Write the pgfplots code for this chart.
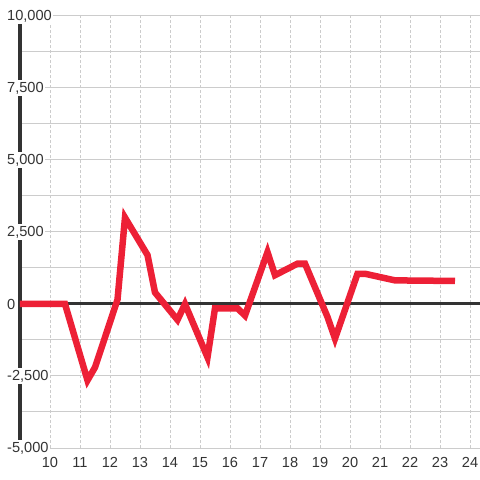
\documentclass[border=0pt]{standalone}
\usepackage{pgfplots}
\pgfplotsset{compat=1.18}
\usepackage{fontspec}
\setmainfont{Liberation Sans}
\definecolor{lred}{RGB}{237,32,54}
\definecolor{gridc}{RGB}{204,204,204}
\definecolor{txt}{RGB}{51,51,51}
\begin{document}
\begin{tikzpicture}
\begin{axis}[name=ax, at={(20bp,32bp)}, anchor=south west,
  scale only axis, width=460bp, height=432bp,
  xmin=9, xmax=24.3333, ymin=-5000, ymax=10000,
  scaled y ticks=false, scaled x ticks=false,
  axis x line*=bottom, axis y line*=left,
  x axis line style={draw=none},
  y axis line style={draw=txt, line width=3bp},
  xtick={10,11,12,13,14,15,16,17,18,19,20,21,22,23,24},
  xticklabels={10,11,12,13,14,15,16,17,18,19,20,21,22,23,24},
  ytick={-5000,-2500,0,2500,5000,7500,10000},
  yticklabels={{-5,000},{-2,500},0,{2,500},{5,000},{7,500},{10,000}},
  minor ytick={-3750,-1250,1250,3750,6250,8750},
  xmajorgrids, ymajorgrids, yminorgrids,
  x grid style={draw=gridc, line width=0.8bp, dash pattern=on 2.5bp off 2.5bp},
  y grid style={draw=gridc, line width=1bp},
  major tick length=0pt, minor tick length=0pt,
  yticklabel style={anchor=west, xshift=-14.5bp, fill=white, inner sep=1.5bp, text=txt, font=\fontsize{14.6bp}{16bp}\selectfont},
  xticklabel style={text=txt, yshift=-6bp, font=\fontsize{14.6bp}{16bp}\selectfont},
  clip=false,
]
\addplot[draw=txt, line width=3bp, forget plot] coordinates {(9,0) (24.3333,0)};
\addplot[lred, line width=6.5bp, line join=miter] coordinates {
(9,0) (10.5,0) (11.25,-2650) (11.5,-2200) (12.25,150) (12.5,3000) (13.25,1700) (13.5,400)
(14.25,-550) (14.5,0) (15.25,-1850) (15.5,-150) (16.25,-150) (16.5,-400) (17.25,1800)
(17.5,1000) (18.25,1400) (18.5,1400) (19.25,-450) (19.5,-1200) (20.25,1050) (20.5,1050)
(21.5,820) (23.5,800)
};
\end{axis}
\pgfresetboundingbox
\path[use as bounding box] (0,0) rectangle (480bp,480bp);
\end{tikzpicture}
\end{document}
